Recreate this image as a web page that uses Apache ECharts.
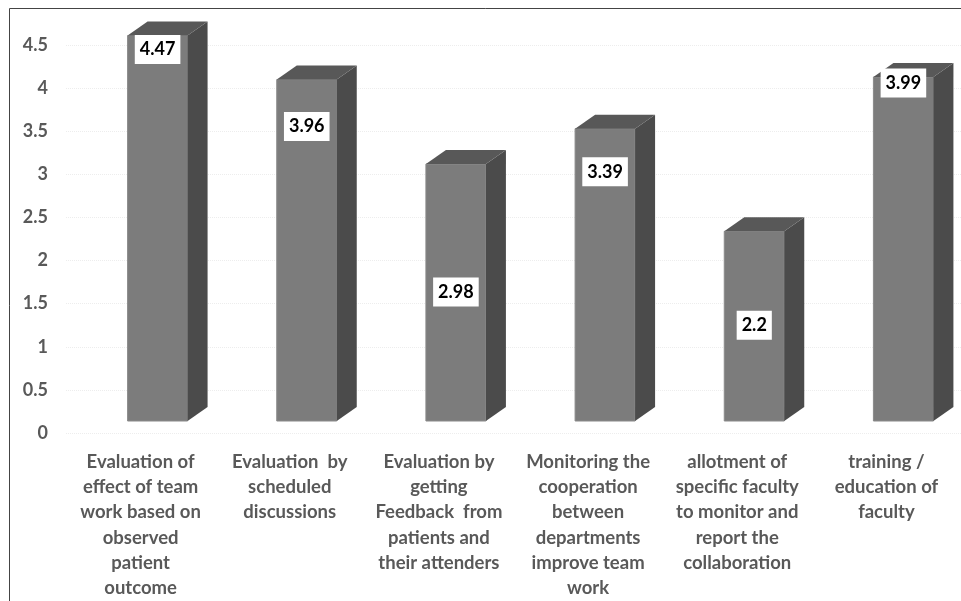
<!DOCTYPE html>
<html>
<head>
<meta charset="utf-8">
<script src="https://cdn.jsdelivr.net/npm/echarts@6/dist/echarts.min.js"></script>
<style>
  html, body { margin: 0; padding: 0; background: #fff; }
  #chart { width: 961px; height: 601px; }
</style>
</head>
<body>
<div id="chart"></div>
<script>
const categories = [
  'Evaluation of\neffect of team\nwork based on\nobserved\npatient\noutcome',
  'Evaluation  by\nscheduled\ndiscussions',
  'Evaluation by\ngetting\nFeedback  from\npatients and\ntheir attenders',
  'Monitoring the\ncooperation\nbetween\ndepartments\nimprove team\nwork',
  'allotment of\nspecific faculty\nto monitor and\nreport the\ncollaboration',
  'training /\neducation of\nfaculty'
]
const scores = [4.47, 3.96, 2.98, 3.39, 2.2, 3.99]
const yMin = 0
const yMax = 4.5
const yStep = 0.5

// how far below the bar top each value box sits (px)
const labelDrop = [14, 47, 128, 43, 94, 6]

const FRONT = '#7c7c7c'
const SIDE = '#4b4b4b'
const TOP = '#585858'
const depthX = 20
const depthY = 14
const lift = 12
const barW = 60

const chart = echarts.init(document.getElementById('chart'))

function renderBar(params, api) {
  const i = api.value(0)
  const v = api.value(1)
  const c = api.coord([i, v])
  const base = api.coord([i, 0])
  const x = c[0] - 13
  const top = c[1] - lift
  const bottom = base[1] - lift
  return {
    type: 'group',
    children: [
      {
        type: 'rect',
        shape: { x: x, y: top, width: barW, height: bottom - top },
        style: { fill: FRONT, stroke: '#8a8a8a', lineWidth: 1 }
      },
      {
        type: 'polygon',
        shape: { points: [[x + barW, top], [x + barW + depthX, top - depthY], [x + barW + depthX, bottom - depthY], [x + barW, bottom]] },
        style: { fill: SIDE }
      },
      {
        type: 'polygon',
        shape: { points: [[x, top], [x + depthX, top - depthY], [x + barW + depthX, top - depthY], [x + barW, top]] },
        style: { fill: TOP }
      },
      {
        type: 'text',
        x: x + barW / 2,
        y: top + labelDrop[params.dataIndex],
        style: {
          text: String(v),
          fill: '#000',
          font: 'bold 18px Lato, "Open Sans", sans-serif',
          align: 'center',
          verticalAlign: 'middle',
          backgroundColor: '#fff',
          padding: [6, 5, 5, 5]
        }
      }
    ]
  }
}

chart.setOption({
  animation: false,
  grid: { left: 66, top: 45, width: 898, height: 388 },
  xAxis: {
    type: 'category',
    data: categories,
    axisLine: { show: false },
    axisTick: { show: false },
    axisLabel: {
      interval: 0,
      margin: 16,
      color: '#595959',
      fontFamily: 'Lato',
      fontWeight: 'bold',
      fontSize: 18.5,
      lineHeight: 25.3
    }
  },
  yAxis: {
    type: 'value',
    min: yMin,
    max: yMax,
    interval: yStep,
    axisLine: { show: false },
    axisTick: { show: false },
    axisLabel: {
      margin: 18,
      color: '#595959',
      fontFamily: 'Lato',
      fontWeight: 'bold',
      fontSize: 18
    },
    splitLine: { lineStyle: { color: '#ededed', type: 'dotted' } }
  },
  graphic: [
    {
      type: 'rect',
      shape: { x: 9.5, y: 8.5, width: 980, height: 620 },
      style: { fill: 'none', stroke: '#444', lineWidth: 1 },
      silent: true
    }
  ],
  series: [
    {
      type: 'custom',
      renderItem: renderBar,
      encode: { x: 0, y: 1 },
      data: scores.map((s, i) => [i, s])
    }
  ]
})
</script>
</body>
</html>
